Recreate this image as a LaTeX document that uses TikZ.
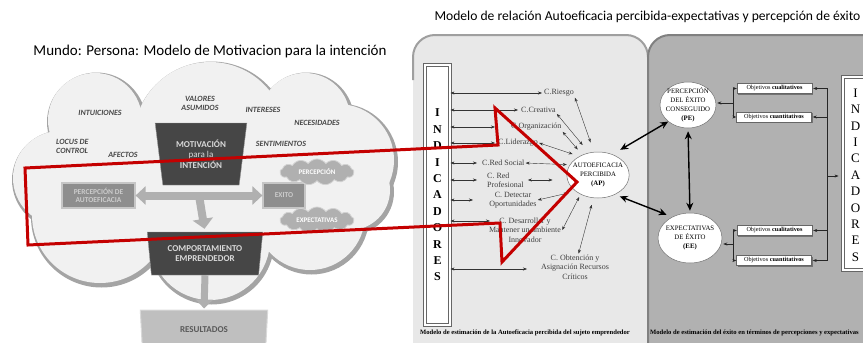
\documentclass[tikz,border=0pt]{standalone}
\usepackage{fontspec}
\setmainfont{Liberation Serif}
\newfontfamily\calfont{Carlito}
\usetikzlibrary{arrows.meta,shapes.geometric,shapes.symbols,shadows,calc,positioning}

\definecolor{cloudfill}{HTML}{F1F1F1}
\definecolor{cloudedge}{HTML}{A4A4A4}
\definecolor{darkbox}{HTML}{464646}
\definecolor{midbox}{HTML}{8E8E8E}
\definecolor{panelL}{HTML}{E8E8E8}
\definecolor{panelR}{HTML}{B1B1B1}
\definecolor{redarrow}{HTML}{C40000}

\tikzset{
  word/.style={font=\calfont\bfseries\itshape\fontsize{8}{9}\selectfont, text=black!72, align=left, inner sep=0pt},
  funnel/.style={trapezium, shape border rotate=180, trapezium stretches=true, fill=darkbox, draw=black!40,
    text=white!85!black, font=\calfont\bfseries\fontsize{9}{10.5}\selectfont, align=center, inner sep=0pt},
  flatbox/.style={draw=gray!45, line width=1.2pt, fill=midbox, text=gray!40,
    font=\calfont\bfseries\fontsize{7.5}{8}\selectfont, align=center, inner sep=1pt},
  puff/.style={cloud, cloud puffs=13, cloud puff arc=110, aspect=3.2, fill=gray!62, draw=gray!35, line width=0.8pt,
    text=white, font=\calfont\bfseries\fontsize{7}{8}\selectfont, minimum width=74, minimum height=26, inner sep=0pt},
  block/.style={line width=8pt, draw=gray!62},
  lbl/.style={font=\fontsize{8}{9.4}\selectfont, text=black!75, align=center, inner sep=1pt},
  tw/.style={{Stealth[length=4pt,width=3pt]}-{Stealth[length=4pt,width=3pt]}, line width=0.4pt, black!80},
  tk/.style={{Stealth[length=8pt,width=7pt]}-{Stealth[length=8pt,width=7pt]}, line width=1.4pt},
  one/.style={-{Stealth[length=4pt,width=3pt]}, line width=0.5pt, black!85},
  oval/.style={ellipse, draw=black!55, fill=white, line width=0.5pt, align=center, inner xsep=-3pt, inner ysep=-1pt,
    font=\fontsize{6.8}{8.8}\selectfont},
  obj/.style={draw=black!60, fill=white, minimum width=75, minimum height=10, inner sep=0pt,
    font=\fontsize{6.2}{7}\selectfont, drop shadow={shadow xshift=1pt, shadow yshift=-1pt, fill=black!55, opacity=1}},
  ind/.style={draw=black!60, double=white, double distance=1.4pt, line width=0.9pt, fill=white, inner sep=0pt},
  capt/.style={font=\bfseries\fontsize{6.6}{7.5}\selectfont, inner sep=0pt},
}

\begin{document}
\begin{tikzpicture}[x=1pt, y=-1pt]
\useasboundingbox (0,0) rectangle (863,343);

% titles
\node[font=\calfont\fontsize{15}{17}\selectfont] (ttlL) at (210,51) {Mundo: Persona: Modelo de Motivacion para la intención};
\node[font=\calfont\fontsize{13.6}{15}\selectfont, anchor=west] (ttlR) at (431,17) {Modelo de relación Autoeficacia percibida-expectativas y percepción de éxito};

% the cloud: rim first, then the fill on top
\foreach \cx/\cy/\rr in {60/178/47, 95/120/47, 210/138/76, 305/118/45, 338/160/56, 350/190/40, 310/215/55, 210/240/60, 100/215/68}
  \fill[cloudedge] (\cx+1.5,\cy+2) circle [radius=\rr+2.5];
\foreach \cx/\cy/\rr in {60/178/47, 95/120/47, 210/138/76, 305/118/45, 338/160/56, 350/190/40, 310/215/55, 210/240/60, 100/215/68}
  \fill[cloudfill] (\cx,\cy) circle [radius=\rr];
\fill[cloudfill] (205,180) ellipse [x radius=150, y radius=70];

\node[word] (wInt) at (100,113) {INTUICIONES};
\node[word, align=center] (wVal) at (200,103) {VALORES\\ASUMIDOS};
\node[word] (wIntr) at (263,110) {INTERESES};
\node[word] (wNec) at (317,123) {NECESIDADES};
\node[word, anchor=west] (wLoc) at (56,146) {LOCUS DE\\CONTROL};
\node[word] (wAfe) at (123,155) {AFECTOS};
\node[word] (wSen) at (281,144) {SENTIMIENTOS};

\node[funnel, minimum width=92, minimum height=62, trapezium left angle=80, trapezium right angle=80] (mot) at (201,154)
  {MOTIVACIÓN\\{\mdseries para la}\\INTENCIÓN};
\node[flatbox, minimum width=73, minimum height=25] (perc) at (98.5,195.5) {PERCEPCIÓN DE\\AUTOEFICACIA};
\node[flatbox, minimum width=42, minimum height=25] (exito) at (284,195.5) {EXITO};
\node[puff] (cperc) at (317,172) {PERCEPCIÓN};
\node[puff] (cexp) at (317,220) {EXPECTATIVAS};
\node[funnel, minimum width=116, minimum height=43, trapezium left angle=80, trapezium right angle=80] (comp) at (205,253.5)
  {COMPORTAMIENTO\\EMPRENDEDOR};
\node[funnel, fill=gray!50, draw=gray!30, line width=1pt, text=black!65, minimum width=128, minimum height=40,
  trapezium left angle=82, trapezium right angle=82] (res) at (204,330) {RESULTADOS};

\coordinate (hmid) at ($(perc.east)!0.5!(exito.west)$);
\draw[block, -{Triangle[length=10pt,width=20pt]}, shorten >=3pt] (hmid) -- (comp.north);
\draw[block, {Triangle[length=10pt,width=18pt]}-{Triangle[length=10pt,width=18pt]}] (perc.east) -- (exito.west);
\draw[block, line width=7pt, -{Triangle[length=9pt,width=17pt]}, shorten >=1pt] (comp.south) -- (res.north);

% the two panels
\fill[panelL, rounded corners=22] (413,35) rectangle (648,370);
\draw[gray!75, line width=2pt, rounded corners=22] (413,80) -- (413,35) -- (648,35) -- (648,370);
\fill[panelR, rounded corners=22] (648,35) rectangle (900,370);
\draw[black!50, line width=2pt, rounded corners=22] (648,370) -- (648,35) -- (900,35);

% left panel
\node[ind, minimum width=25, minimum height=260] (indL) at (437.5,195) {};
\foreach \ch [count=\i] in {I,N,D,I,C,A,D,O,R,E,S}
  \node[font=\bfseries\fontsize{12}{12}\selectfont, inner sep=0pt] (iL\i) at (437.5,113+16.4*\i-16.4) {\ch};

\node[lbl, anchor=west] (riesgo) at (543,93) {C.Riesgo};
\node[lbl, anchor=west] (creat) at (520,110) {C.Creativa};
\node[lbl, anchor=west] (organiz) at (510,127) {C.Organización};
\node[lbl, anchor=west] (lider) at (497,143) {C.Liderazgo};
\node[lbl, anchor=west] (redsoc) at (481,163) {C.Red Social};
\node[lbl, anchor=west, align=left] (redprof) at (486,180) {C. Red\\Profesional};
\node[lbl] (detect) at (513,200) {C. Detectar\\Oportunidades};
\node[lbl] (desarr) at (525,230) {C. Desarrollar y\\Mantener un ambiente\\Innovador};
\node[lbl] (obten) at (575,267) {C. Obtención y\\Asignación Recursos\\Críticos};

\foreach \yr/\xe [count=\k] in {93/542, 110/518, 127/495, 143/495, 163/477, 180/477, 200/473, 221/490, 269/527}{
  \coordinate (row\k) at (\xe,\yr);
  \draw[tw] (indL.east |- row\k) -- (row\k);
}

\node[oval, minimum width=62, minimum height=46] (ap) at (598,175) {AUTOEFICACIA\\PERCIBIDA\\\textbf{(AP)}};

\draw[tw, shorten >=10pt] (riesgo.south east) -- (ap.100);
\draw[tw, shorten >=10pt] (creat.south east) -- (ap.112);
\draw[tw, shorten >=7pt] (organiz.south east) -- (ap.128);
\draw[tw, shorten >=7pt] (lider.east) -- (ap.135);
\draw[tw, shorten >=3pt] (redsoc.east) -- (ap.160);
\draw[tw, shorten <=3pt, shorten >=14pt] (redprof.east) -- (ap.west |- redprof.east);
\draw[tw, shorten >=8pt] (detect.east) -- (ap.216);
\draw[tw, shorten >=3pt] (desarr.east) -- (ap.228);
\draw[tw, shorten >=7pt] (obten.75) -- (ap.259);

% right panel
\node[oval, minimum width=56, minimum height=46] (pe) at (688,105) {PERCEPCIÓN\\DEL ÉXITO\\CONSEGUIDO\\\textbf{(PE)}};
\node[oval, minimum width=64, minimum height=50] (ee) at (690,238) {EXPECTATIVAS\\DE ÉXITO\\\textbf{(EE)}};

\draw[tk, shorten <=9pt] (ap.55) -- (pe.220);
\draw[tk, shorten <=5pt, shorten >=6pt] (ap.311) -- (ee.130);
\draw[tk, shorten <=3pt, shorten >=2pt] (pe.south) -- (ee.north);

\node[obj] (ob1) at (774.5,88.5) {Objetivos \textbf{cualitativos}};
\node[obj] (ob2) at (774,117) {Objetivos \textbf{cuantitativos}};
\node[obj] (ob3) at (774.5,230.5) {Objetivos \textbf{cualitativos}};
\node[obj] (ob4) at (774,260.5) {Objetivos \textbf{cuantitativos}};

\coordinate (bPE) at (733,103);
\draw[one, shorten >=1pt] (bPE) -- (pe.east |- bPE);
\draw[one] (bPE) |- (ob1.west);
\draw[one] (bPE) |- (ob2.west);
\coordinate (bEE) at (733,244);
\draw[one, shorten >=1pt] (bEE) -- (ee.east |- bEE);
\draw[one] (bEE) |- (ob3.west);
\draw[one] (bEE) |- (ob4.west);

\node[ind, minimum width=25, minimum height=193] (indR) at (855.5,173.5) {};
\foreach \ch [count=\i] in {I,N,D,I,C,A,D,O,R,E,S}
  \node[font=\fontsize{13}{13}\selectfont, inner sep=0pt] (iR\i) at (855.5,93+16.4*\i-16.4) {\ch};

\coordinate (bI) at (827,176);
\draw[one, shorten >=4pt] (bI) -- (indR.west |- bI);
\foreach \o in {ob1,ob2,ob3,ob4}
  \draw[one, shorten >=1pt] (bI) |- (\o.east);

\node[capt] (capL) at (525,333) {Modelo de estimación de la Autoeficacia percibida del sujeto emprendedor};
\node[capt, anchor=west] (capR) at (650,333) {Modelo de estimación del éxito en términos de percepciones y expectativas};

% the red outline arrow over both models
\draw[redarrow, line width=3pt, line join=miter] (25,168) -- (498,145) -- (495,108) -- (577,182) -- (502,262) -- (500,223) -- (28,245) -- cycle;

\end{tikzpicture}
\end{document}
